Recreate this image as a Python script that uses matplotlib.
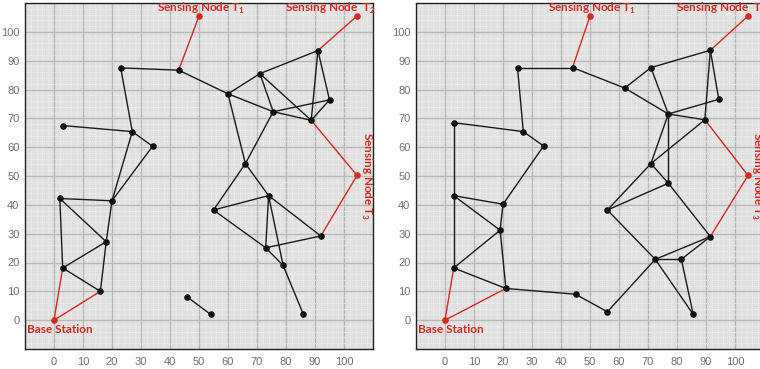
import matplotlib
matplotlib.use('agg')
import matplotlib.pyplot as plt
import numpy as np

# ---- left network ----
# last four nodes: base station, T1, T2, T3
xa = [23, 43, 60, 71, 91, 95, 75.6, 88.7, 3, 27, 34, 66, 2, 20, 55, 74, 18, 92, 73, 3, 79, 16, 46, 54, 86,
      0, 50, 104.5, 104.5]
ya = [87.5, 86.7, 78.5, 85.5, 93.5, 76.4, 72.3, 69.3, 67.5, 65.4, 60.3, 54.3, 42.2, 41.4, 38.2, 43.2, 27.2,
      29.2, 25.1, 18.1, 19, 10, 8, 2, 2,
      0, 105.5, 105.5, 50.2]
edges_a = [(0, 1), (0, 9), (1, 2), (2, 3), (2, 6), (6, 7), (3, 6), (3, 7), (3, 4), (4, 7), (4, 5), (5, 7),
           (6, 5), (2, 11), (11, 6), (11, 15), (11, 14), (14, 15), (14, 18), (18, 20), (15, 17), (18, 17),
           (15, 18), (15, 20), (20, 24), (22, 23),
           (8, 9), (9, 10), (9, 13), (10, 13), (12, 13), (12, 19), (12, 16), (13, 16), (16, 21), (19, 16),
           (19, 21)]
red_a = [(25, 19), (25, 21), (1, 26), (4, 27), (7, 28), (28, 17)]

# ---- right network ----
xb = [25, 44, 62, 71, 91.5, 94.4, 77, 89.6, 3, 27, 34, 71, 77, 3, 20, 56, 19, 91.5, 72.5, 81.5, 3, 21, 45,
      56, 85.6,
      0, 50, 104.5, 104.5]
yb = [87.6, 87.6, 80.5, 87.6, 93.6, 76.6, 71.5, 69.5, 68.5, 65.4, 60.4, 54.3, 47.5, 43.2, 40.2, 38.2, 31.2,
      29, 21.1, 21.1, 18.1, 11, 9, 2.9, 2,
      0, 105.5, 105.5, 50.2]
edges_b = [(0, 1), (0, 9), (1, 2), (2, 3), (2, 6), (3, 6), (3, 4), (4, 5), (4, 7), (6, 5), (6, 7), (6, 11),
           (6, 12), (7, 11), (11, 12), (11, 15), (12, 15), (12, 17), (15, 18), (18, 17), (18, 19), (19, 17),
           (19, 24), (18, 24), (18, 23), (23, 22), (22, 21),
           (8, 9), (9, 10), (10, 14), (8, 13), (13, 14), (13, 16), (13, 20), (16, 20), (16, 14), (16, 21),
           (20, 21)]
red_b = [(25, 20), (25, 21), (1, 26), (4, 27), (7, 28), (28, 17)]

ticks = list(range(0, 101, 10))
red = '#d42a20'

fig = plt.figure(figsize=(7.6, 3.69), dpi=100)
ax1 = fig.add_axes([25/760, 20/369, 348/760, 346/369])
ax2 = fig.add_axes([416/760, 20/369, 348/760, 346/369])


def draw(ax, xs, ys, edges, reds, t3x):
    ax.set_facecolor('#e1e1e1')
    ax.set_xlim(-10, 110)
    ax.set_ylim(-10, 110)
    ax.set_xticks(ticks)
    ax.set_yticks(ticks)
    ax.set_xticks(np.arange(-10, 111, 2), minor=True)
    ax.set_yticks(np.arange(-10, 111, 2), minor=True)
    ax.grid(which='minor', color='#f4f4f4', lw=0.6, ls=(0, (1, 1.5)))
    ax.grid(which='major', color='#b9b9b9', lw=1.0)
    ax.set_axisbelow(True)
    ax.tick_params(which='both', length=0, labelsize=8, labelcolor='#6e6e6e')
    ax.tick_params(axis='x', pad=6)
    ax.tick_params(axis='y', pad=4)
    for lab in ax.get_xticklabels() + ax.get_yticklabels():
        lab.set_family('Liberation Sans')
    for s in ax.spines.values():
        s.set_linestyle((0, (1, 1)))
        s.set_linewidth(1)
        s.set_color('#222222')

    for i, j in edges:
        ax.plot([xs[i], xs[j]], [ys[i], ys[j]], color='#1a1a1a', lw=1.0, zorder=2)
    for i, j in reds:
        ax.plot([xs[i], xs[j]], [ys[i], ys[j]], color=red, lw=1.0, zorder=2)
    ax.scatter(xs[:25], ys[:25], s=14, color='#111111', zorder=3)
    ax.scatter(xs[25:], ys[25:], s=14, color=red, zorder=3)

    fkw = dict(color=red, fontsize=8.5, fontweight='bold', family='Lato', clip_on=False)
    ax.text(35.5, 108.2, 'Sensing Node T$_\\mathregular{1}$', ha='left', va='center', **fkw)
    ax.text(79.5, 108.2, 'Sensing Node  T$_\\mathregular{2}$', ha='left', va='center', **fkw)
    ax.text(t3x, 50, 'Sensing Node T$_\\mathregular{3}$', ha='center', va='center', rotation=-90, **fkw)
    ax.text(-9.4, -3.3, 'Base Station', ha='left', va='center', **fkw)


draw(ax1, xa, ya, edges_a, red_a, 107.8)
draw(ax2, xb, yb, edges_b, red_b, 107.3)

plt.savefig('out.png', dpi=100)
